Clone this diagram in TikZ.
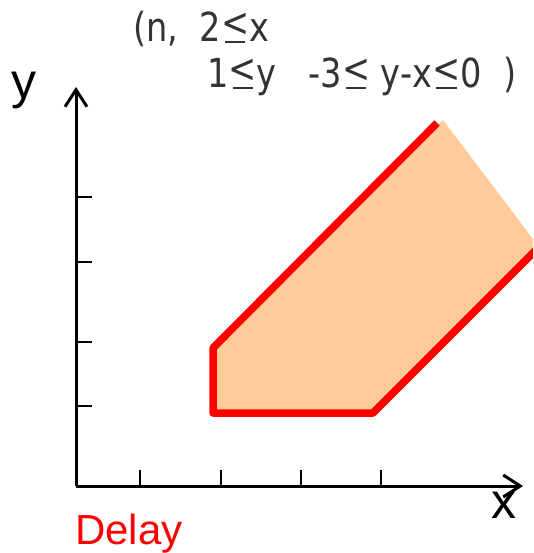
\documentclass[tikz,border=0pt]{standalone}
\usepackage{fontspec}
\setmainfont{Liberation Sans}
\newfontfamily\dejavu{DejaVu Sans}
\usetikzlibrary{arrows.meta}
\definecolor{regionfill}{HTML}{FFCC99}
\definecolor{edgered}{HTML}{FF0000}
\definecolor{textgray}{HTML}{333333}
\newcommand\uleq{{\setbox0\hbox{<}\rlap{\kern0.14\wd0\rule[-0.03em]{0.72\wd0}{0.055em}}\raisebox{0.14em}{<}}}
\tikzset{
  axisline/.style={line width=3pt, black, -{Straight Barb[length=17pt,width=22pt,line width=3pt]}},
  tickline/.style={line width=2.8pt, black},
  edgeline/.style={line width=7.5pt, edgered, line join=round, line cap=butt},
  axislabel/.style={font=\fontsize{50}{50}\selectfont, anchor=base west, inner sep=0pt},
  constr/.style={font=\dejavu\fontsize{40}{40}\selectfont, text=textgray, anchor=base west, inner sep=0pt},
  delaylabel/.style={font=\fontsize{42}{42}\selectfont, text=edgered, anchor=base west, inner sep=0pt}
}
\begin{document}
\begin{tikzpicture}[x=1pt,y=-1pt]
\useasboundingbox (0,0) rectangle (533,553);
% region
\coordinate (p1) at (213,413);
\coordinate (p2) at (213,348);
\coordinate (p3) at (443,120);
\coordinate (p3r) at (437,123);
\coordinate (p4) at (539,247);
\coordinate (p5) at (373,413);
\begin{scope}
  \clip (0,0) rectangle (533,553);
  \fill[regionfill] (p1) -- (p2) -- (p3) -- (p4) -- (p5) -- cycle;
  \draw[edgeline] (p3r) -- (p2) -- (p1) -- (p5) -- (p4);
\end{scope}
% axes
\coordinate (O) at (76,486);
\coordinate (ytip) at (76,87);
\coordinate (xtip) at (523,486);
\draw[axisline] (O) -- (ytip);
\draw[axisline] (O) -- (xtip);
\foreach \tx in {140,221,301,381}{
  \coordinate (xt\tx) at (\tx,486);
  \draw[tickline] (xt\tx) -- ++(0,-16);
}
\foreach \ty in {197,262,342,406}{
  \coordinate (yt\ty) at (76,\ty);
  \draw[tickline] (yt\ty) -- ++(16,0);
}
% labels
\node[axislabel] (ylab) at (11,99) {y};
\node[axislabel] (xlab) at (491,518) {x};
\node[delaylabel] (delay) at (75,544) {Delay};
\node[constr] (line1) at (133,42) {\scalebox{0.84}[1]{(n,\ \ 2\uleq x}};
\node[constr] (line2) at (207,88) {\scalebox{0.84}[1]{1\uleq y\ \ \ -3\uleq\ y-x\uleq 0\ \ )}};
\end{tikzpicture}
\end{document}
